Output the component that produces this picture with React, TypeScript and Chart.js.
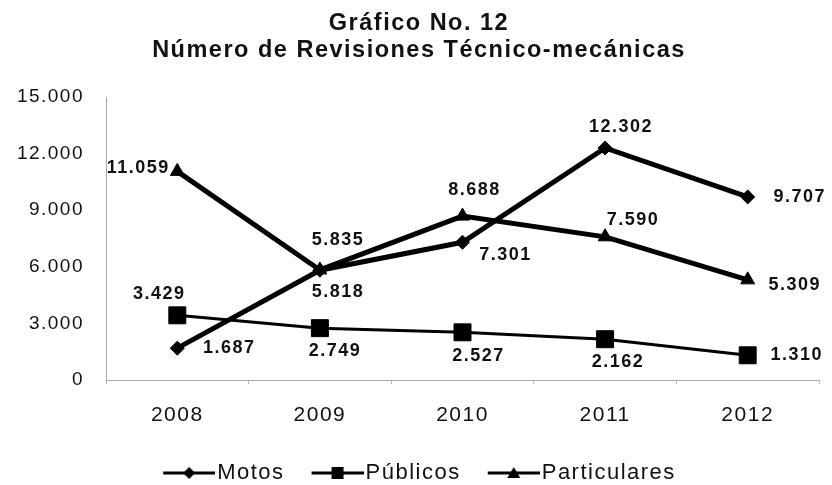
import React, { useEffect, useRef } from 'react';
import { Chart, registerables } from 'chart.js';

Chart.register(...registerables);

// ---- data ----
const years = ['2008', '2009', '2010', '2011', '2012'];
const motos = [1687, 5818, 7301, 12302, 9707];
const publicos = [3429, 2749, 2527, 2162, 1310];
const particulares = [11059, 5835, 8688, 7590, 5309];
const yTicks = [0, 3000, 6000, 9000, 12000, 15000];
const seriesNames = ['Motos', 'Públicos', 'Particulares'];
const titleLines = ['Gráfico No. 12', 'Número de Revisiones Técnico-mecánicas'];

// ---- label placement (pixel offsets from each point) ----
const motosLabelOffsets = [[52, 0], [18, 22], [43, 13], [16, -21], [52, 0]];
const publicosLabelOffsets = [[-18, -21], [15, 23], [16, 24], [13, 23], [49, 0]];
const particularesLabelOffsets = [[-39, -3], [18, -30], [12, -26], [28, -17], [47, 5]];
const labelOffsets = [motosLabelOffsets, publicosLabelOffsets, particularesLabelOffsets];

const FAMILY = "'Liberation Sans', Arial, Helvetica, sans-serif";
const SPACING = '1.5px';

const fmt = (v: number) =>
  String(Math.round(v)).replace(/\B(?=(\d{3})+(?!\d))/g, '.');

function makeLegendIcon(kind: 'diamond' | 'square' | 'triangle'): HTMLCanvasElement {
  const c = document.createElement('canvas');
  c.width = 62;
  c.height = 16;
  const ctx = c.getContext('2d')!;
  ctx.strokeStyle = '#000';
  ctx.fillStyle = '#000';
  ctx.lineWidth = 3;
  ctx.beginPath();
  ctx.moveTo(10, 8);
  ctx.lineTo(62, 8);
  ctx.stroke();
  const cx = 36;
  const cy = 8;
  ctx.beginPath();
  if (kind === 'diamond') {
    ctx.moveTo(cx - 6, cy);
    ctx.lineTo(cx, cy - 6);
    ctx.lineTo(cx + 6, cy);
    ctx.lineTo(cx, cy + 6);
    ctx.closePath();
  } else if (kind === 'square') {
    ctx.rect(cx - 6, cy - 6, 12, 12);
  } else {
    ctx.moveTo(cx, cy - 6);
    ctx.lineTo(cx + 6.5, cy + 5);
    ctx.lineTo(cx - 6.5, cy + 5);
    ctx.closePath();
  }
  ctx.fill();
  return c;
}

const spacingPlugin = {
  id: 'letterSpacingPlugin',
  beforeUpdate(chart: any) {
    chart.ctx.letterSpacing = SPACING;
  },
  beforeLayout(chart: any) {
    chart.ctx.letterSpacing = SPACING;
  },
  beforeDraw(chart: any) {
    chart.ctx.letterSpacing = SPACING;
  },
};

const pointLabelPlugin = {
  id: 'pointLabels',
  afterDatasetsDraw(chart: any) {
    const ctx = chart.ctx;
    ctx.save();
    ctx.letterSpacing = SPACING;
    ctx.font = `bold 18px ${FAMILY}`;
    ctx.fillStyle = '#111';
    ctx.textAlign = 'center';
    ctx.textBaseline = 'middle';
    chart.data.datasets.forEach((ds: any, i: number) => {
      const meta = chart.getDatasetMeta(i);
      const offs = labelOffsets[i];
      meta.data.forEach((pt: any, j: number) => {
        const v = ds.data[j] as number;
        ctx.fillText(fmt(v), pt.x + offs[j][0], pt.y + offs[j][1]);
      });
    });
    ctx.restore();
  },
};

export default function App() {
  const ref = useRef<HTMLCanvasElement>(null);

  useEffect(() => {
    document.body.style.margin = '0';
    const canvas = ref.current!;
    const icons = [makeLegendIcon('diamond'), makeLegendIcon('square'), makeLegendIcon('triangle')];

    const chart = new Chart(canvas, {
      type: 'line',
      data: {
        labels: years,
        datasets: [
          {
            label: seriesNames[0],
            data: motos,
            borderColor: '#000',
            backgroundColor: '#000',
            borderWidth: 5,
            pointStyle: 'rectRot',
            pointRadius: 7,
            pointBorderWidth: 1,
            tension: 0,
          },
          {
            label: seriesNames[1],
            data: publicos,
            borderColor: '#000',
            backgroundColor: '#000',
            borderWidth: 3,
            pointStyle: 'rect',
            pointRadius: 12,
            pointBorderWidth: 1,
            tension: 0,
          },
          {
            label: seriesNames[2],
            data: particulares,
            borderColor: '#000',
            backgroundColor: '#000',
            borderWidth: 5,
            pointStyle: 'triangle',
            pointRadius: 8,
            pointBorderWidth: 1,
            tension: 0,
          },
        ],
      },
      options: {
        responsive: false,
        animation: false,
        events: [],
        layout: { padding: { left: 14, right: 8, top: 0, bottom: 0 } },
        scales: {
          x: {
            type: 'category',
            offset: true,
            grid: {
              display: true,
              offset: true,
              drawOnChartArea: false,
              drawTicks: true,
              tickLength: 4,
              color: '#bbb',
            },
            border: { display: true, color: '#aaa', dash: [1, 4] },
            ticks: { padding: 19, font: { size: 21, family: FAMILY }, color: '#111' },
            afterFit: (s: any) => {
              const lh = s.chart.legend ? s.chart.legend.height : 49;
              s.height = s.chart.height - lh - 380;
            },
          },
          y: {
            min: 0,
            max: 15000,
            afterBuildTicks: (s: any) => {
              s.ticks = yTicks.map((v) => ({ value: v }));
            },
            grid: { display: false, drawTicks: false },
            border: { display: true, color: '#aaa', dash: [1, 4] },
            ticks: {
              padding: 22,
              font: { size: 19, family: FAMILY },
              color: '#111',
              callback: (v: any) => fmt(Number(v)),
            },
            afterFit: (s: any) => {
              s.width = 92;
            },
          },
        },
        plugins: {
          title: {
            display: true,
            text: titleLines,
            color: '#111',
            font: { size: 23.5, weight: 'bold', family: FAMILY, lineHeight: 1.15 },
            padding: { top: 10, bottom: 33 },
          },
          legend: {
            display: true,
            position: 'bottom',
            maxHeight: 49,
            labels: {
              usePointStyle: true,
              pointStyleWidth: 44,
              padding: 26,
              color: '#111',
              font: { size: 22, family: FAMILY },
              generateLabels: () =>
                seriesNames.map((n, i) => ({
                  text: n,
                  pointStyle: icons[i] as any,
                  fillStyle: '#000',
                  strokeStyle: '#000',
                  lineWidth: 0,
                  hidden: false,
                  datasetIndex: i,
                  fontColor: '#111',
                })),
            },
          },
          tooltip: { enabled: false },
        },
      } as any,
      plugins: [spacingPlugin, pointLabelPlugin],
    });

    return () => chart.destroy();
  }, []);

  return (
    <div style={{ width: 832, height: 485 }}>
      <canvas ref={ref} width={832} height={485} style={{ display: 'block' }} />
    </div>
  );
}
